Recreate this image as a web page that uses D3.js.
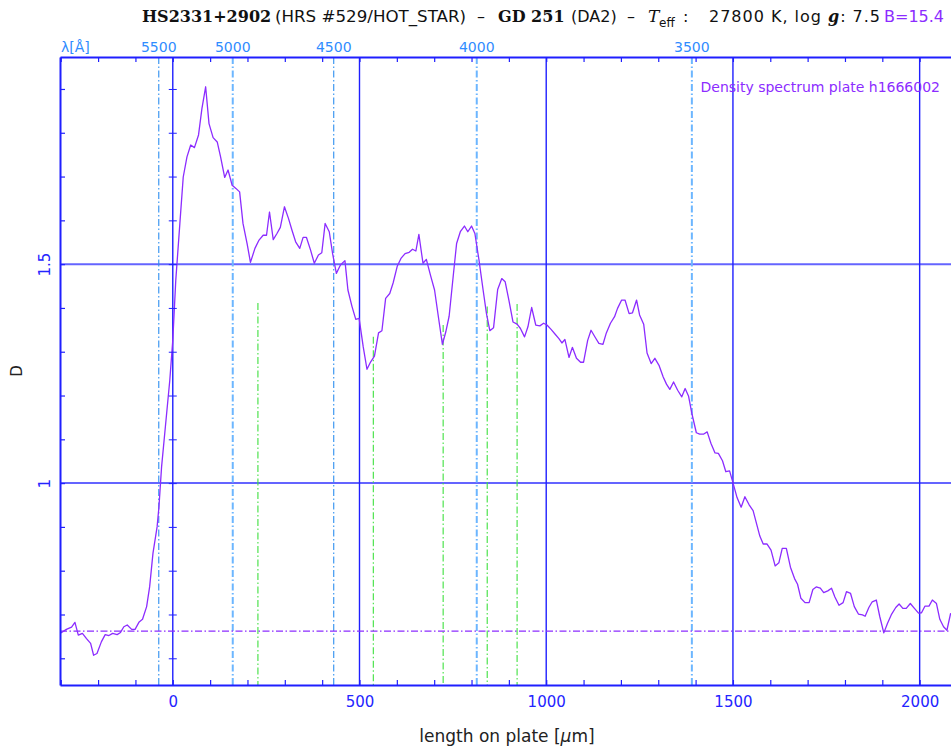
<!DOCTYPE html>
<html><head><meta charset="utf-8">
<script src="https://cdn.jsdelivr.net/npm/d3@7"></script>
<style>
html,body{margin:0;padding:0;background:#fff;}
svg{display:block;}
text{font-family:"DejaVu Sans",sans-serif;}
</style></head>
<body>
<svg id="chart" width="951" height="747"></svg>
<script>
// ---- data ----
const micron = [-301,-285,-271,-262,-253,-242,-231,-220,-212,-203,-191,-181,-171,-161,-149,-140,-131,-122,-110,-101,-90,-81,-70,-62,-53,-42,-37,-30,-19,-8,0,8,19,28,38,48,58,69,78,88,97,108,119,128,139,148,159,169,179,188,199,208,220,231,242,251,259,269,279,288,299,310,319,329,340,349,358,369,379,390,399,408,419,428,438,449,461,469,480,490,499,510,520,530,540,551,560,570,581,590,601,611,622,633,642,651,659,670,679,690,701,711,722,731,740,751,760,770,781,790,800,809,820,831,840,849,859,870,881,890,900,911,922,931,942,951,961,972,983,993,1002,1013,1024,1034,1042,1050,1061,1070,1081,1092,1100,1111,1120,1131,1141,1152,1161,1172,1183,1191,1202,1211,1222,1231,1242,1250,1261,1270,1281,1291,1302,1313,1322,1331,1341,1352,1363,1372,1381,1390,1402,1411,1422,1431,1441,1452,1461,1472,1481,1491,1500,1511,1522,1532,1543,1554,1563,1572,1581,1591,1602,1613,1623,1632,1643,1654,1665,1673,1682,1693,1704,1714,1723,1734,1743,1754,1764,1773,1784,1795,1804,1815,1825,1836,1847,1854,1864,1873,1884,1893,1904,1914,1925,1936,1945,1955,1964,1975,1986,1997,2005,2014,2025,2034,2045,2054,2064,2073,2083];
const density = [0.657,0.666,0.671,0.682,0.653,0.657,0.645,0.634,0.607,0.611,0.638,0.654,0.652,0.657,0.654,0.659,0.672,0.676,0.666,0.666,0.683,0.689,0.718,0.763,0.840,0.900,0.946,1.037,1.136,1.235,1.326,1.463,1.593,1.699,1.745,1.772,1.766,1.795,1.855,1.905,1.821,1.789,1.779,1.745,1.698,1.715,1.680,1.673,1.665,1.593,1.547,1.504,1.536,1.555,1.566,1.566,1.619,1.556,1.570,1.584,1.631,1.604,1.578,1.551,1.536,1.561,1.561,1.532,1.502,1.521,1.526,1.593,1.574,1.524,1.479,1.498,1.508,1.441,1.403,1.374,1.376,1.311,1.260,1.277,1.290,1.343,1.348,1.422,1.433,1.457,1.495,1.513,1.524,1.527,1.534,1.530,1.568,1.502,1.511,1.475,1.441,1.381,1.317,1.345,1.381,1.473,1.547,1.574,1.587,1.574,1.587,1.570,1.509,1.441,1.387,1.348,1.355,1.442,1.467,1.460,1.418,1.368,1.363,1.353,1.334,1.357,1.401,1.361,1.359,1.365,1.361,1.351,1.340,1.330,1.320,1.328,1.287,1.310,1.285,1.276,1.276,1.326,1.349,1.333,1.319,1.317,1.343,1.365,1.380,1.399,1.418,1.418,1.387,1.389,1.418,1.384,1.363,1.297,1.273,1.285,1.269,1.243,1.226,1.214,1.231,1.212,1.197,1.216,1.199,1.159,1.115,1.112,1.112,1.117,1.091,1.069,1.068,1.051,1.026,1.028,1.001,0.967,0.945,0.969,0.951,0.937,0.908,0.879,0.861,0.861,0.847,0.811,0.818,0.851,0.851,0.808,0.782,0.769,0.737,0.727,0.727,0.757,0.763,0.760,0.750,0.754,0.760,0.740,0.721,0.727,0.752,0.748,0.718,0.701,0.699,0.696,0.716,0.729,0.733,0.696,0.658,0.680,0.701,0.716,0.724,0.714,0.714,0.725,0.714,0.703,0.704,0.719,0.719,0.733,0.725,0.689,0.672,0.664,0.703];

const xTicks = [-300,-200,-100,0,100,200,300,400,500,600,700,800,900,1000,1100,1200,1300,1400,1500,1600,1700,1800,1900,2000];
const xLabels = [0,500,1000,1500,2000];
const xGrid = [0,500,1000,1500,2000];
const yTicks = [0.6,0.7,0.8,0.9,1.0,1.1,1.2,1.3,1.4,1.5,1.6,1.7,1.8,1.9];
const yLabels = [1,1.5];
const yGrid = [1,1.5];

const lambdaLabels = ["5500","5000","4500","4000","3500"];
const lambdaPos = [-37.5,160.6,431,814,1390];      // position on plate (µm)
const lambdaStrong = [false,true,false,true,true];

const balmerPos = [228,537,724,842,922];           // µm
const balmerTop = [1.411,1.334,1.361,1.403,1.409]; // D where marker starts

const baseLevel = 0.662;

const titleMain = "HS2331+2902", titleSurvey = "(HRS #529/HOT_STAR)", titleName = "GD 251", titleType = "(DA2)";
const teff = "27800 K", logg = "7.5", bmag = "B=15.4";
const legendText = "Density spectrum plate h1666002";

// ---- chart ----
const svg = d3.select("#chart");
const L = 60, R = 957, T = 57, B = 685;
const x = d3.scaleLinear().domain([-302, 2100]).range([L, R]);
const y = d3.scaleLinear().domain([0.539, 1.973]).range([B, T]);

const AX = "#1f1fff", GRID_H = "#6464ff", PURPLE = "#8c2cff";
const DASH = "7,2.5,1.5,2.5";

svg.append("defs").append("clipPath").attr("id","clip")
  .append("rect").attr("x",L).attr("y",T).attr("width",R-L).attr("height",B-T);

const plot = svg.append("g").attr("clip-path","url(#clip)");

// horizontal grid
plot.selectAll("line.hg").data(yGrid).join("line")
  .attr("x1",L).attr("x2",R).attr("y1",d=>y(d)).attr("y2",d=>y(d))
  .attr("stroke",GRID_H).attr("stroke-width",2);
// vertical grid
plot.selectAll("line.vg").data(xGrid).join("line")
  .attr("x1",d=>x(d)).attr("x2",d=>x(d)).attr("y1",T).attr("y2",B)
  .attr("stroke",AX).attr("stroke-width",1.4);

// wavelength markers
plot.selectAll("line.lam").data(lambdaPos).join("line")
  .attr("x1",d=>x(d)).attr("x2",d=>x(d)).attr("y1",T).attr("y2",B)
  .attr("stroke",(d,i)=>lambdaStrong[i]?"#6cb6ff":"#2e8ff0")
  .attr("stroke-width",(d,i)=>lambdaStrong[i]?2:1.1)
  .attr("stroke-dasharray",DASH);

// Balmer markers
plot.selectAll("line.bal").data(balmerPos).join("line")
  .attr("x1",d=>x(d)).attr("x2",d=>x(d)).attr("y1",(d,i)=>y(balmerTop[i])).attr("y2",B)
  .attr("stroke","#3ee03e").attr("stroke-width",1.1)
  .attr("stroke-dasharray",DASH);

// base level
plot.append("line").attr("x1",L).attr("x2",R).attr("y1",y(baseLevel)).attr("y2",y(baseLevel))
  .attr("stroke",PURPLE).attr("stroke-width",1.1).attr("stroke-dasharray",DASH);

// spectrum
const pts = micron.map((m,i)=>[m,density[i]]);
plot.append("path").datum(pts)
  .attr("fill","none").attr("stroke",PURPLE).attr("stroke-width",1.3)
  .attr("stroke-linejoin","round")
  .attr("d", d3.line().x(d=>x(d[0])).y(d=>y(d[1])));

// axes
const fmtX = d => xLabels.includes(d) ? String(d) : "";
const gB = svg.append("g").attr("transform",`translate(0,${B})`)
  .call(d3.axisBottom(x).tickValues(xTicks).tickFormat(fmtX).tickSizeInner(-5).tickSizeOuter(0).tickPadding(11));
const gT = svg.append("g").attr("transform",`translate(0,${T})`)
  .call(d3.axisTop(x).tickValues(xTicks).tickFormat("").tickSizeInner(-5).tickSizeOuter(0));
const fmtY = d => yLabels.some(v=>Math.abs(v-d)<1e-9) ? String(d) : "";
const gL = svg.append("g").attr("transform",`translate(${L},0)`)
  .call(d3.axisLeft(y).tickValues(yTicks).tickFormat(fmtY).tickSizeInner(-5).tickSizeOuter(0));
// tick marks on the zero line, both sides
svg.append("g").attr("transform",`translate(${x(0)},0)`)
  .call(d3.axisLeft(y).tickValues(yTicks).tickFormat("").tickSizeInner(4).tickSizeOuter(0))
  .call(g=>g.select(".domain").remove());
svg.append("g").attr("transform",`translate(${x(0)},0)`)
  .call(d3.axisRight(y).tickValues(yTicks).tickFormat("").tickSizeInner(4).tickSizeOuter(0))
  .call(g=>g.select(".domain").remove());

[gB,gT,gL].forEach(g=>{
  g.select(".domain").attr("stroke",AX).attr("stroke-width",2);
  g.selectAll(".tick line").attr("stroke",AX).attr("stroke-width",1.2);
  g.selectAll("text").attr("fill","#2424ff").style("font-family","DejaVu Sans").style("font-size","15px");
});
svg.selectAll("g .tick line").attr("stroke",AX);
gL.selectAll("text").attr("x",0).attr("y",0).attr("dy",0)
  .attr("transform","translate(-10,0) rotate(-90)").style("text-anchor","middle");

// top wavelength labels
svg.selectAll("text.lam").data(lambdaLabels).join("text")
  .attr("x",(d,i)=>x(lambdaPos[i])).attr("y",52)
  .attr("text-anchor","middle").attr("fill","#2f8cff").style("font-size","14px").text(d=>d);
svg.append("text").attr("x",61).attr("y",52).attr("fill","#2f8cff").style("font-size","14px").text("λ[Å]");

// axis titles
svg.append("text").attr("x",507).attr("y",742).attr("text-anchor","middle")
  .attr("fill","#222").style("font-size","17px")
  .html('length on plate [<tspan font-style="italic">µ</tspan>m]');
svg.append("text").attr("transform","translate(22,371) rotate(-90)").attr("text-anchor","middle")
  .attr("fill","#222").style("font-size","15px").text("D");

// legend
svg.append("text").attr("x",940).attr("y",92).attr("text-anchor","end")
  .attr("fill",PURPLE).style("font-size","14px").text(legendText);

// title
const tb = 22;
const serifB = s => s.style("font-family","DejaVu Serif").style("font-weight","bold").style("font-size","16px");
const sans = s => s.style("font-family","DejaVu Sans").style("font-size","16px");
svg.append("text").attr("x",142).attr("y",tb).attr("fill","#111").call(serifB).text(titleMain);
svg.append("text").attr("x",275).attr("y",tb).attr("fill","#111").call(sans)
  .attr("textLength",191).attr("lengthAdjust","spacingAndGlyphs").text(titleSurvey);
svg.append("text").attr("x",477).attr("y",tb).attr("fill","#111").call(sans).text("–");
svg.append("text").attr("x",498).attr("y",tb).attr("fill","#111").call(serifB).text(titleName);
svg.append("text").attr("x",571).attr("y",tb).attr("fill","#111").call(sans).text(titleType);
svg.append("text").attr("x",627).attr("y",tb).attr("fill","#111").call(sans).text("–");
svg.append("text").attr("x",648).attr("y",tb).attr("fill","#111")
  .style("font-family","DejaVu Serif").style("font-style","italic").style("font-size","17px").text("T");
svg.append("text").attr("x",659).attr("y",tb+5).attr("fill","#111").style("font-size","12px").text("eff");
svg.append("text").attr("x",683).attr("y",tb).attr("fill","#111").call(sans).text(":");
const t2 = svg.append("text").attr("x",709).attr("y",tb).attr("fill","#111").call(sans)
  .attr("textLength",171).attr("lengthAdjust","spacing");
t2.append("tspan").text(teff + ", log ");
t2.append("tspan").style("font-family","DejaVu Serif").style("font-style","italic").style("font-weight","bold").text("g");
t2.append("tspan").text(": " + logg);
svg.append("text").attr("x",884).attr("y",tb).attr("fill",PURPLE).call(sans).text(bmag);
</script>
</body></html>
